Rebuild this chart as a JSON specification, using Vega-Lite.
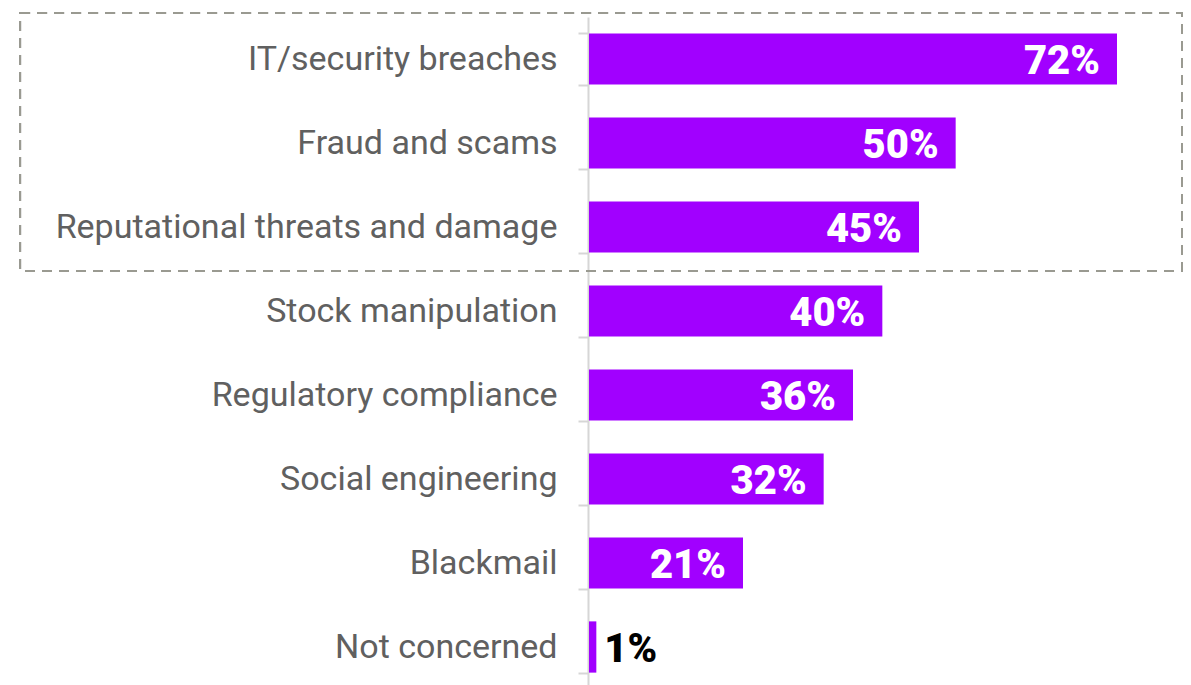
{
  "$schema": "https://vega.github.io/schema/vega-lite/v6.json",
  "autosize": "none",
  "width": 594,
  "height": 672,
  "padding": {"left": 588, "top": 17, "right": 9, "bottom": 0},
  "background": "white",
  "config": {"view": {"stroke": null}},
  "data": {"values": [
    {"cat": "IT/security breaches", "pct": 72},
    {"cat": "Fraud and scams", "pct": 50},
    {"cat": "Reputational threats and damage", "pct": 45},
    {"cat": "Stock manipulation", "pct": 40},
    {"cat": "Regulatory compliance", "pct": 36},
    {"cat": "Social engineering", "pct": 32},
    {"cat": "Blackmail", "pct": 21},
    {"cat": "Not concerned", "pct": 1}
  ]},
  "transform": [{"calculate": "datum.pct + '%'", "as": "label"}],
  "encoding": {
    "y": {
      "field": "cat", "type": "nominal", "sort": null,
      "scale": {
        "domain": ["IT/security breaches", "Fraud and scams", "Reputational threats and damage", "Stock manipulation", "Regulatory compliance", "Social engineering", "Blackmail", "Not concerned"],
        "paddingInner": 0.39, "paddingOuter": 0.195
      },
      "axis": {
        "title": null, "tickBand": "extent",
        "domainColor": "#d6d6d6", "domainWidth": 2,
        "tickColor": "#d6d6d6", "tickWidth": 2, "tickSize": 10,
        "labelPadding": 21, "labelFont": "Roboto", "labelFontSize": 34, "labelFontWeight": 400,
        "labelColor": "#606060", "labelLimit": 600
      }
    }
  },
  "layer": [
    {
      "mark": {"type": "bar", "color": "#A100FF", "xOffset": 1},
      "encoding": {
        "x": {"field": "pct", "type": "quantitative", "scale": {"domain": [0, 81], "nice": false, "zero": true}, "axis": null}
      }
    },
    {
      "mark": {"type": "rect", "fill": null, "stroke": "#9a9a91", "strokeWidth": 2, "strokeDash": [10, 7], "yOffset": -20.4, "y2Offset": 18.4, "clip": false},
      "encoding": {
        "x": {"datum": -77.45, "type": "quantitative"},
        "x2": {"datum": 81},
        "y": {"datum": "IT/security breaches", "bandPosition": 0},
        "y2": {"datum": "Reputational threats and damage", "bandPosition": 1}
      }
    },
    {
      "transform": [{"filter": "datum.pct >= 10"}],
      "mark": {"type": "text", "align": "right", "baseline": "middle", "dx": -16, "dy": 3, "font": "Roboto", "fontSize": 40, "fontWeight": 900, "color": "white"},
      "encoding": {
        "x": {"field": "pct", "type": "quantitative"},
        "text": {"field": "label", "type": "nominal"}
      }
    },
    {
      "transform": [{"filter": "datum.pct < 10"}],
      "mark": {"type": "text", "align": "left", "baseline": "middle", "dx": 9, "dy": 3, "font": "Roboto", "fontSize": 40, "fontWeight": 900, "color": "black"},
      "encoding": {
        "x": {"field": "pct", "type": "quantitative"},
        "text": {"field": "label", "type": "nominal"}
      }
    }
  ]
}
